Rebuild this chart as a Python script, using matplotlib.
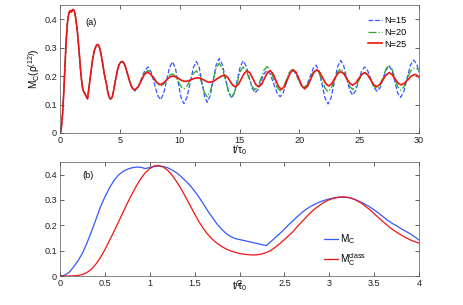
import numpy as np
import matplotlib
matplotlib.use('Agg')
import matplotlib.pyplot as plt

plt.rcParams['font.family'] = ['Liberation Sans', 'DejaVu Sans']
plt.rcParams['mathtext.fontset'] = 'custom'
plt.rcParams['mathtext.rm'] = 'Liberation Sans'
plt.rcParams['mathtext.it'] = 'Liberation Sans:italic'
plt.rcParams['mathtext.bf'] = 'Liberation Sans:bold'

# panel (b): t/tau0 from 0 to 4, step 0.05
t_b = np.round(np.arange(0, 4.001, 0.05), 2)
mc = [0.000, 0.003, 0.014, 0.035, 0.060, 0.090, 0.130, 0.175, 0.223, 0.272,
      0.312, 0.347, 0.376, 0.398, 0.412, 0.421, 0.427, 0.430, 0.429, 0.424,
      0.428, 0.433, 0.434, 0.432, 0.427, 0.418, 0.407, 0.392, 0.375, 0.357,
      0.335, 0.310, 0.283, 0.255, 0.230, 0.205, 0.185, 0.168, 0.156, 0.148,
      0.144, 0.140, 0.136, 0.132, 0.128, 0.124, 0.120, 0.136, 0.152, 0.168,
      0.185, 0.203, 0.220, 0.236, 0.252, 0.265, 0.276, 0.285, 0.293, 0.299,
      0.304, 0.308, 0.310, 0.311, 0.310, 0.306, 0.300, 0.292, 0.283, 0.273,
      0.261, 0.248, 0.234, 0.220, 0.208, 0.198, 0.187, 0.177, 0.167, 0.155,
      0.142]
mc_class = [0.000, 0.000, 0.000, 0.001, 0.002, 0.006, 0.014, 0.027, 0.047, 0.073,
            0.104, 0.139, 0.175, 0.212, 0.250, 0.287, 0.322, 0.355, 0.384, 0.407,
            0.424, 0.434, 0.436, 0.430, 0.417, 0.397, 0.372, 0.343, 0.311, 0.278,
            0.245, 0.213, 0.186, 0.163, 0.144, 0.129, 0.117, 0.107, 0.099, 0.094,
            0.089, 0.086, 0.084, 0.083, 0.084, 0.087, 0.093, 0.101, 0.114, 0.128,
            0.144, 0.160, 0.177, 0.197, 0.216, 0.235, 0.253, 0.268, 0.281, 0.292,
            0.301, 0.307, 0.311, 0.312, 0.311, 0.307, 0.299, 0.289, 0.276, 0.262,
            0.246, 0.230, 0.214, 0.199, 0.185, 0.173, 0.162, 0.152, 0.143, 0.136,
            0.130]

# panel (a): common start (same for all N) after t=4
t_early = [4.05, 4.10, 4.15, 4.20, 4.25, 4.30, 4.35, 4.40, 4.50, 4.60, 4.70, 4.80,
           4.90, 5.00, 5.10, 5.20, 5.30, 5.40, 5.50, 5.60, 5.70, 5.80, 5.90, 6.00,
           6.10, 6.20]
v_early = [0.134, 0.127, 0.122, 0.120, 0.120, 0.122, 0.126, 0.133, 0.153, 0.178,
           0.200, 0.220, 0.235, 0.245, 0.250, 0.251, 0.248, 0.240, 0.228, 0.214,
           0.199, 0.184, 0.171, 0.161, 0.155, 0.152]

# N=15 and N=20 after t=6.25
t_1520 = [6.25, 6.53, 6.80, 7.08, 7.35, 7.61, 7.88, 8.14, 8.40, 8.65, 8.90, 9.15,
          9.40, 9.64, 9.88, 10.11, 10.35, 10.61, 10.88, 11.14, 11.40, 11.63, 11.85,
          12.08, 12.30, 12.55, 12.80, 13.05, 13.30, 13.56, 13.83, 14.09, 14.35,
          14.59, 14.83, 15.06, 15.30, 15.55, 15.80, 16.05, 16.30, 16.55, 16.80,
          17.05, 17.30, 17.58, 17.85, 18.13, 18.40, 18.65, 18.90, 19.15, 19.40,
          19.65, 19.90, 20.15, 20.40, 20.65, 20.90, 21.15, 21.40, 21.65, 21.90,
          22.15, 22.40, 22.66, 22.93, 23.19, 23.45, 23.70, 23.95, 24.20, 24.45,
          24.70, 24.95, 25.20, 25.45, 25.71, 25.98, 26.24, 26.50, 26.75, 27.00,
          27.25, 27.50, 27.74, 27.98, 28.21, 28.45, 28.73, 29.00, 29.28, 29.55,
          29.80, 30.00]
n15 = [0.147, 0.160, 0.190, 0.219, 0.232, 0.215, 0.175, 0.134, 0.117, 0.137,
       0.184, 0.230, 0.250, 0.228, 0.177, 0.125, 0.103, 0.125, 0.177, 0.229,
       0.251, 0.230, 0.180, 0.129, 0.108, 0.131, 0.185, 0.239, 0.262, 0.241,
       0.192, 0.143, 0.122, 0.142, 0.188, 0.233, 0.253, 0.236, 0.197, 0.158,
       0.141, 0.153, 0.181, 0.208, 0.220, 0.206, 0.174, 0.141, 0.127, 0.141,
       0.175, 0.208, 0.222, 0.212, 0.190, 0.168, 0.158, 0.170, 0.198, 0.226,
       0.238, 0.218, 0.170, 0.122, 0.102, 0.125, 0.179, 0.232, 0.255, 0.237,
       0.194, 0.151, 0.133, 0.148, 0.183, 0.217, 0.232, 0.219, 0.189, 0.159,
       0.146, 0.159, 0.190, 0.222, 0.236, 0.219, 0.180, 0.141, 0.125, 0.145,
       0.192, 0.238, 0.256, 0.243, 0.214]
n20 = [0.150, 0.161, 0.185, 0.210, 0.220, 0.212, 0.193, 0.173, 0.165, 0.171,
       0.187, 0.202, 0.208, 0.200, 0.182, 0.163, 0.155, 0.164, 0.187, 0.209,
       0.218, 0.204, 0.173, 0.141, 0.127, 0.145, 0.186, 0.227, 0.245, 0.227,
       0.186, 0.145, 0.127, 0.143, 0.180, 0.216, 0.232, 0.220, 0.192, 0.164,
       0.152, 0.164, 0.193, 0.221, 0.233, 0.220, 0.191, 0.161, 0.148, 0.159,
       0.186, 0.212, 0.223, 0.214, 0.192, 0.169, 0.160, 0.169, 0.191, 0.213,
       0.222, 0.210, 0.184, 0.157, 0.145, 0.157, 0.186, 0.214, 0.226, 0.215,
       0.190, 0.164, 0.153, 0.162, 0.183, 0.204, 0.213, 0.204, 0.184, 0.164,
       0.155, 0.167, 0.196, 0.226, 0.238, 0.225, 0.194, 0.163, 0.150, 0.162,
       0.189, 0.216, 0.228, 0.226, 0.220]

# N=25 after t=6.25
t_25 = [6.25, 6.51, 6.78, 7.04, 7.30, 7.56, 7.83, 8.09, 8.35, 8.61, 8.88, 9.14,
        9.40, 9.66, 9.93, 10.19, 10.45, 10.71, 10.98, 11.24, 11.50, 11.76, 12.03,
        12.29, 12.55, 12.85, 13.15, 13.45, 13.75, 13.98, 14.20, 14.43, 14.65,
        14.90, 15.15, 15.40, 15.65, 15.89, 16.13, 16.36, 16.60, 16.84, 17.08,
        17.31, 17.55, 17.79, 18.03, 18.26, 18.50, 18.75, 19.00, 19.25, 19.50,
        19.74, 19.98, 20.21, 20.45, 20.70, 20.95, 21.20, 21.45, 21.70, 21.95,
        22.20, 22.45, 22.70, 22.95, 23.20, 23.45, 23.70, 23.95, 24.20, 24.45,
        24.70, 24.95, 25.20, 25.45, 25.70, 25.95, 26.20, 26.45, 26.71, 26.98,
        27.24, 27.50, 27.75, 28.00, 28.25, 28.50, 28.79, 29.08, 29.36, 29.65,
        29.85, 30.00]
n25 = [0.152, 0.161, 0.183, 0.205, 0.214, 0.207, 0.192, 0.177, 0.170, 0.175,
       0.185, 0.196, 0.200, 0.197, 0.191, 0.184, 0.181, 0.183, 0.188, 0.192,
       0.194, 0.192, 0.186, 0.180, 0.178, 0.182, 0.191, 0.199, 0.203, 0.197,
       0.183, 0.168, 0.162, 0.170, 0.190, 0.210, 0.218, 0.210, 0.190, 0.170,
       0.162, 0.171, 0.191, 0.210, 0.219, 0.209, 0.186, 0.163, 0.153, 0.163,
       0.188, 0.212, 0.222, 0.212, 0.189, 0.165, 0.155, 0.165, 0.189, 0.212,
       0.222, 0.213, 0.194, 0.174, 0.165, 0.173, 0.191, 0.208, 0.216, 0.209,
       0.192, 0.175, 0.168, 0.175, 0.190, 0.205, 0.212, 0.205, 0.188, 0.170,
       0.163, 0.170, 0.187, 0.203, 0.212, 0.205, 0.190, 0.175, 0.169, 0.175,
       0.188, 0.200, 0.206, 0.202, 0.195]

blue = '#3358ff'
green = '#2aa62a'
red = '#f01414'
fs = 6.6
fs_math = 7.2

fig = plt.figure(figsize=(4.63, 3.05), dpi=100)
ax1 = fig.add_axes([0.1296, 0.564, 0.7754, 0.42])
ax2 = fig.add_axes([0.1296, 0.095, 0.7754, 0.374])

t_start = list(t_b) + t_early
v_start = list(mc) + v_early
ax1.plot(t_start + t_1520, v_start + n15, '--', color=blue, lw=0.9, label='N=15')
ax1.plot(t_start + t_1520, v_start + n20, '-.', color=green, lw=0.9, label='N=20')
ax1.plot(t_start + t_25, v_start + n25, '-', color=red, lw=1.2, label='N=25')
ax1.set_xlim(0, 30)
ax1.set_ylim(0, 0.45)
ax1.set_xticks([0, 5, 10, 15, 20, 25, 30])
ax1.set_yticks([0, 0.1, 0.2, 0.3, 0.4])
ax1.set_yticklabels(['0', '0.1', '0.2', '0.3', '0.4'])
ax1.set_xlabel(r'$\mathrm{t/\tau_0}$', fontsize=fs_math, labelpad=-1)
ax1.set_ylabel(r'$\mathrm{M_C(\rho^{(12)})}$', fontsize=fs_math, labelpad=2)
ax1.text(0.072, 0.862, '(a)', transform=ax1.transAxes, fontsize=fs, va='center')
ax1.legend(loc='upper left', bbox_to_anchor=(0.858, 0.91), frameon=False,
           fontsize=fs, handlelength=1.5, handletextpad=0.25, labelspacing=0.28,
           borderpad=0, borderaxespad=0)

ax2.plot(t_b, mc, '-', color=blue, lw=0.9, label=r'$\mathrm{M_C}$')
ax2.plot(t_b, mc_class, '-', color=red, lw=0.9, label=r'$\mathrm{M_C^{class}}$')
ax2.set_xlim(0, 4)
ax2.set_ylim(0, 0.45)
ax2.set_xticks([0, 0.5, 1, 1.5, 2, 2.5, 3, 3.5, 4])
ax2.set_xticklabels(['0', '0.5', '1', '1.5', '2', '2.5', '3', '3.5', '4'])
ax2.set_yticks([0, 0.1, 0.2, 0.3, 0.4])
ax2.set_yticklabels(['0', '0.1', '0.2', '0.3', '0.4'])
ax2.set_xlabel(r'$\mathrm{t/\tau_0}$', fontsize=fs_math, labelpad=-6)
ax2.text(0.063, 0.877, '(b)', transform=ax2.transAxes, fontsize=fs, va='center')
ax2.legend(loc='upper left', bbox_to_anchor=(0.735, 0.38), frameon=False,
           fontsize=fs_math, handlelength=1.4, handletextpad=0.25, labelspacing=0.45,
           borderpad=0, borderaxespad=0)

for ax in (ax1, ax2):
    ax.tick_params(direction='in', top=True, right=True, length=3, width=0.5,
                   labelsize=fs, pad=2, colors='#222222')
    for s in ax.spines.values():
        s.set_linewidth(0.5)
        s.set_color('#555555')

fig.savefig('out.png', dpi=100)
